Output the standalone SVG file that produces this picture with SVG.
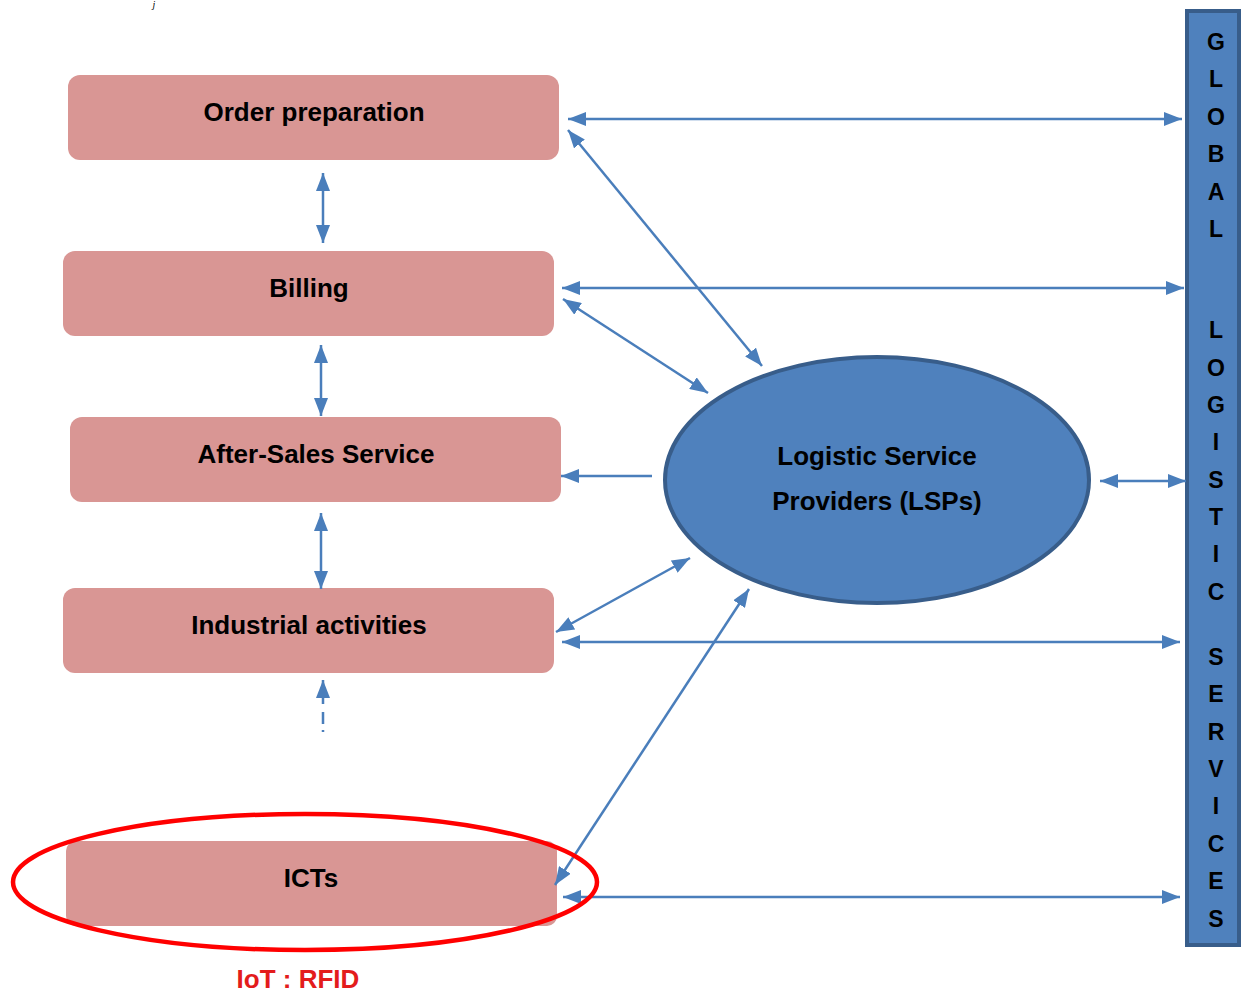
<svg xmlns="http://www.w3.org/2000/svg" width="1241" height="992" viewBox="0 0 1241 992">
<style>
.box{fill:#D99694;}
.lbl{font-family:"Liberation Sans",Arial,sans-serif;font-weight:bold;font-size:26px;fill:#000;text-anchor:middle;}
.bar{font-family:"Liberation Sans",Arial,sans-serif;font-weight:bold;font-size:23px;fill:#000;text-anchor:middle;}
.con{stroke:#4A7EBB;stroke-width:2.5;fill:none;}
</style>
<defs>
<marker id="ah" viewBox="0 0 18 14" refX="18" refY="7" markerWidth="18" markerHeight="14" markerUnits="userSpaceOnUse" orient="auto-start-reverse">
<path d="M0,0 L18,7 L0,14 Z" fill="#4A7EBB"/>
</marker>
</defs>
<rect width="1241" height="992" fill="#fff"/>
<text x="154" y="8" font-family="Liberation Serif,serif" font-style="italic" font-size="10" fill="#000" text-anchor="middle">j</text>

<g id="order-preparation"><rect class="box" x="68" y="75" width="491" height="85" rx="12"/><text class="lbl" x="314" y="121">Order preparation</text></g>
<g id="billing"><rect class="box" x="63" y="251" width="491" height="85" rx="12"/><text class="lbl" x="309" y="297">Billing</text></g>
<g id="after-sales"><rect class="box" x="70" y="417" width="491" height="85" rx="12"/><text class="lbl" x="316" y="463">After-Sales Service</text></g>
<g id="industrial"><rect class="box" x="63" y="588" width="491" height="85" rx="12"/><text class="lbl" x="309" y="634">Industrial activities</text></g>
<g id="icts"><rect class="box" x="66" y="841" width="491" height="85" rx="10"/><text class="lbl" x="311" y="887">ICTs</text></g>

<g id="lsp"><ellipse cx="877" cy="480" rx="212" ry="123" fill="#4F81BD" stroke="#385D8A" stroke-width="4"/>
<text class="lbl" x="877" y="465">Logistic Service</text><text class="lbl" x="877" y="510">Providers (LSPs)</text></g>

<g id="global-logistic-services"><rect x="1187" y="11" width="52" height="934" fill="#4F81BD" stroke="#385D8A" stroke-width="4"/>
<text class="bar" x="1216" y="50">G</text>
<text class="bar" x="1216" y="87">L</text>
<text class="bar" x="1216" y="125">O</text>
<text class="bar" x="1216" y="162">B</text>
<text class="bar" x="1216" y="200">A</text>
<text class="bar" x="1216" y="237">L</text>
<text class="bar" x="1216" y="338">L</text>
<text class="bar" x="1216" y="376">O</text>
<text class="bar" x="1216" y="413">G</text>
<text class="bar" x="1216" y="450">I</text>
<text class="bar" x="1216" y="488">S</text>
<text class="bar" x="1216" y="525">T</text>
<text class="bar" x="1216" y="562">I</text>
<text class="bar" x="1216" y="600">C</text>
<text class="bar" x="1216" y="665">S</text>
<text class="bar" x="1216" y="702">E</text>
<text class="bar" x="1216" y="740">R</text>
<text class="bar" x="1216" y="777">V</text>
<text class="bar" x="1216" y="814">I</text>
<text class="bar" x="1216" y="852">C</text>
<text class="bar" x="1216" y="889">E</text>
<text class="bar" x="1216" y="927">S</text>
</g>

<g id="connectors">
<line class="con" x1="568" y1="119" x2="1182" y2="119" marker-start="url(#ah)" marker-end="url(#ah)"/>
<line class="con" x1="568" y1="130" x2="762" y2="366" marker-start="url(#ah)" marker-end="url(#ah)"/>
<line class="con" x1="562" y1="288" x2="1184" y2="288" marker-start="url(#ah)" marker-end="url(#ah)"/>
<line class="con" x1="563" y1="299" x2="708" y2="393" marker-start="url(#ah)" marker-end="url(#ah)"/>
<line class="con" x1="323" y1="173" x2="323" y2="243" marker-start="url(#ah)" marker-end="url(#ah)"/>
<line class="con" x1="321" y1="345" x2="321" y2="416" marker-start="url(#ah)" marker-end="url(#ah)"/>
<line class="con" x1="652" y1="476" x2="561" y2="476" marker-end="url(#ah)"/>
<line class="con" x1="321" y1="513" x2="321" y2="589" marker-start="url(#ah)" marker-end="url(#ah)"/>
<line class="con" x1="556" y1="632" x2="690" y2="558" marker-start="url(#ah)" marker-end="url(#ah)"/>
<line class="con" x1="562" y1="642" x2="1180" y2="642" marker-start="url(#ah)" marker-end="url(#ah)"/>
<line class="con" x1="323" y1="732" x2="323" y2="680" stroke-dasharray="2,6,12,8,30" marker-end="url(#ah)"/>
<line class="con" x1="555" y1="885" x2="749" y2="589" marker-start="url(#ah)" marker-end="url(#ah)"/>
<line class="con" x1="563" y1="897" x2="1180" y2="897" marker-start="url(#ah)" marker-end="url(#ah)"/>
<line class="con" x1="1100" y1="481" x2="1186" y2="481" marker-start="url(#ah)" marker-end="url(#ah)"/>
</g>

<g id="iot-highlight">
<ellipse cx="305" cy="882" rx="292" ry="68" fill="none" stroke="#FF0000" stroke-width="4.5"/>
<text x="298" y="988" font-family="Liberation Sans,Arial,sans-serif" font-weight="bold" font-size="26" fill="#E31C1C" text-anchor="middle">IoT : RFID</text>
</g>
</svg>
